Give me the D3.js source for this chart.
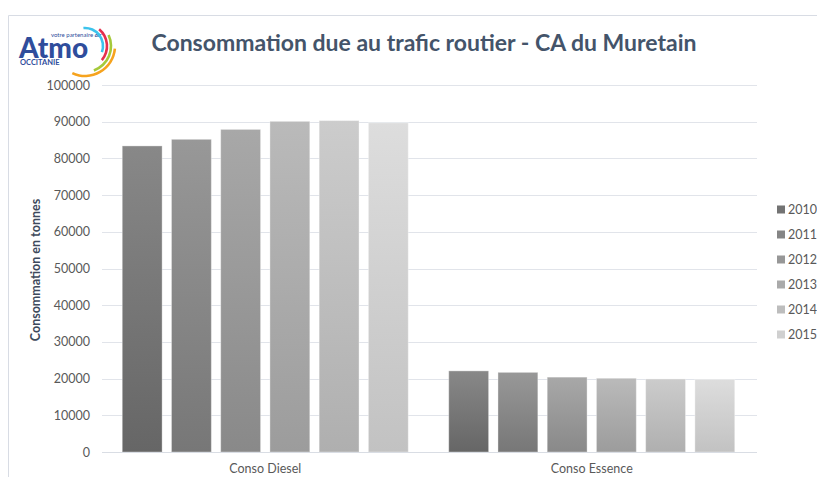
<!DOCTYPE html>
<html>
<head>
<meta charset="utf-8">
<script src="https://cdn.jsdelivr.net/npm/d3@7"></script>
<style>
  html, body { margin: 0; padding: 0; background: #fff; }
  svg { display: block; }
</style>
</head>
<body>
<svg id="chart" width="817" height="477"></svg>
<script>
// Consommation annuelle (tonnes) par type de carburant
const categories = ["Conso Diesel", "Conso Essence"];
const years = ["2010", "2011", "2012", "2013", "2014", "2015"];
const dieselValues = [83400, 85200, 87900, 90100, 90300, 89700];
const essenceValues = [22100, 21700, 20400, 20100, 19900, 19800];
const yTicks = [0, 10000, 20000, 30000, 40000, 50000, 60000, 70000, 80000, 90000, 100000];

// Dégradé par année : haut clair, bas foncé
const topColors = ["#888888", "#989898", "#a8a8a8", "#bababa", "#cccccc", "#dddddd"];
const bottomColors = ["#666666", "#777777", "#898989", "#9c9c9c", "#afafaf", "#c2c2c2"];
const legendColors = ["#737373", "#858585", "#979797", "#aaaaaa", "#bdbdbd", "#d0d0d0"];

const seriesByCategory = [dieselValues, essenceValues];

const svg = d3.select("#chart");
const font = "Lato, 'Open Sans', sans-serif";

// Cadre
svg.append("path")
  .attr("d", "M8.5,477 L8.5,15.5 L817,15.5")
  .attr("fill", "none")
  .attr("stroke", "#d8dce4")
  .attr("stroke-width", 1);

// Dégradés
const defs = svg.append("defs");
years.forEach((y, i) => {
  const g = defs.append("linearGradient")
    .attr("id", "grad" + y)
    .attr("x1", 0).attr("y1", 0).attr("x2", 0).attr("y2", 1);
  g.append("stop").attr("offset", "0%").attr("stop-color", topColors[i]);
  g.append("stop").attr("offset", "100%").attr("stop-color", bottomColors[i]);
});

// Échelles
const y = d3.scaleLinear().domain([0, 100000]).range([452, 85]);
const x0 = d3.scaleBand().domain(categories).range([102, 755])
  .paddingInner(0.124).paddingOuter(0.062);
const x1 = d3.scaleBand().domain(years).range([0, x0.bandwidth()])
  .paddingInner(0.19).paddingOuter(0);

// Grille horizontale
svg.append("g")
  .selectAll("line")
  .data(yTicks)
  .join("line")
  .attr("x1", 102).attr("x2", 757)
  .attr("y1", d => Math.round(y(d)) + 0.5)
  .attr("y2", d => Math.round(y(d)) + 0.5)
  .attr("stroke", "#e1e4ea")
  .attr("stroke-width", 1);

// Axe vertical
const yAxis = d3.axisLeft(y).tickValues(yTicks).tickSize(0).tickPadding(0).tickFormat(d3.format("d"));
const gy = svg.append("g").attr("transform", "translate(90,0)").call(yAxis);
gy.select(".domain").remove();
gy.selectAll("text")
  .attr("font-family", font)
  .attr("font-size", "12.5px")
  .attr("fill", "#595959");

// Barres
const groups = svg.append("g")
  .selectAll("g")
  .data(categories.map((c, ci) => ({ c, values: seriesByCategory[ci] })))
  .join("g")
  .attr("transform", d => `translate(${x0(d.c)},0)`);

groups.selectAll("rect")
  .data(d => d.values.map((v, i) => ({ year: years[i], v })))
  .join("rect")
  .attr("x", d => x1(d.year))
  .attr("width", x1.bandwidth())
  .attr("y", d => y(d.v))
  .attr("height", d => y(0) - y(d.v))
  .attr("fill", d => `url(#grad${d.year})`)
  .attr("stroke", "#ffffff")
  .attr("stroke-opacity", 0.35)
  .attr("stroke-width", 1);

// Axe horizontal
svg.append("line")
  .attr("x1", 102).attr("x2", 757)
  .attr("y1", Math.round(y(0)) + 0.5).attr("y2", Math.round(y(0)) + 0.5)
  .attr("stroke", "#d9dde4");

const xAxis = d3.axisBottom(x0).tickSize(0).tickPadding(0);
const gx = svg.append("g").attr("transform", "translate(0,464)").call(xAxis);
gx.select(".domain").remove();
gx.selectAll("text")
  .attr("font-family", font)
  .attr("font-size", "12.5px")
  .attr("fill", "#595959");

// Titre de l'axe vertical
svg.append("text")
  .attr("transform", "translate(40,270) rotate(-90)")
  .attr("text-anchor", "middle")
  .attr("font-family", font)
  .attr("font-weight", "bold")
  .attr("font-size", "12.5px")
  .attr("fill", "#3e4a5c")
  .text("Consommation en tonnes");

// Titre
const title = svg.append("text")
  .attr("x", 424)
  .attr("y", 51)
  .attr("text-anchor", "middle")
  .attr("font-family", font)
  .attr("font-weight", "bold")
  .attr("font-size", "21px")
  .attr("fill", "#44546a")
  .text("Consommation due au trafic routier - CA du Muretain");
const tw = title.node().getComputedTextLength();
title.attr("font-size", (21 * 545 / tw).toFixed(2) + "px");

// Légende
const legend = svg.append("g")
  .selectAll("g")
  .data(years)
  .join("g")
  .attr("transform", (d, i) => `translate(777,${210 + i * 25})`);
legend.append("rect")
  .attr("x", 0).attr("y", -4.5)
  .attr("width", 8).attr("height", 8)
  .attr("fill", (d, i) => legendColors[i]);
legend.append("text")
  .attr("x", 11).attr("y", 0)
  .attr("dy", "0.35em")
  .attr("font-family", font)
  .attr("font-size", "12.5px")
  .attr("fill", "#595959")
  .text(d => d);

// Logo Atmo Occitanie
const logo = svg.append("g");
logo.append("text")
  .attr("x", 19).attr("y", 58)
  .attr("font-family", font)
  .attr("font-weight", "900")
  .attr("font-size", "28px")
  .attr("fill", "#2f4d9c")
  .text("Atmo");
const tagline = logo.append("text")
  .attr("x", 51).attr("y", 37)
  .attr("font-family", font)
  .attr("font-size", "6px")
  .attr("fill", "#2f4d9c");
tagline.append("tspan").text("votre partenaire ");
tagline.append("tspan").attr("font-weight", "bold").attr("font-style", "italic").text("air");
logo.append("text")
  .attr("x", 20).attr("y", 65)
  .attr("font-family", font)
  .attr("font-weight", "bold")
  .attr("font-size", "7.5px")
  .attr("fill", "#2f4d9c")
  .text("OCCITANIE");

const arcGen = d3.arc();
const arcs = [
  { r: 18, a0: -5, a1: 110, c: "#3cc3ec" },
  { r: 22, a0: 40, a1: 130, c: "#e5304d" },
  { r: 26, a0: 65, a1: 160, c: "#a5c93a" },
  { r: 30, a0: 95, a1: 205, c: "#f6a31e" }
];
logo.append("g")
  .attr("transform", "translate(85,46)")
  .selectAll("path")
  .data(arcs)
  .join("path")
  .attr("d", d => arcGen({
    innerRadius: d.r - 1.3,
    outerRadius: d.r + 1.3,
    startAngle: d.a0 * Math.PI / 180,
    endAngle: d.a1 * Math.PI / 180
  }))
  .attr("fill", d => d.c);
</script>
</body>
</html>
